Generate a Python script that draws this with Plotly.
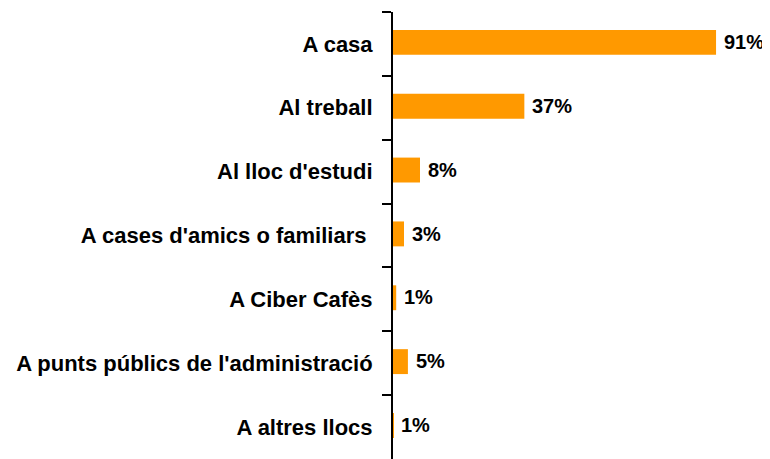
import plotly.graph_objects as go

categories = ["A casa", "Al treball", "Al lloc d'estudi", "A cases d'amics o familiars\u00a0",
              "A Ciber Cafès", "A punts públics de l'administració", "A altres llocs"]
values = [91, 37, 7.6, 3.1, 0.9, 4.2, 0.1]
labels = ["91%", "37%", "8%", "3%", "1%", "5%", "1%"]

fig = go.Figure()
fig.add_trace(go.Bar(
    x=values, y=categories, orientation="h",
    marker=dict(color="#FF9900", line=dict(width=0)),
    width=0.39, offset=-0.22, hoverinfo="skip",
))
for v, c, t in zip(values, categories, labels):
    fig.add_annotation(x=v, y=c, text=t, showarrow=False, xanchor="left", xshift=6, yshift=2,
                       font=dict(family="Liberation Sans", size=20, color="black", weight="bold"))

fig.update_layout(
    width=762, height=451,
    margin=dict(l=385, r=22, t=4, b=0, autoexpand=False),
    plot_bgcolor="white", paper_bgcolor="white",
    showlegend=False,
    xaxis=dict(range=[0, 100], visible=False, fixedrange=True, automargin=False),
    yaxis=dict(autorange="reversed", showline=True, linecolor="black", linewidth=2,
               ticks="outside", ticklen=9, tickwidth=2, tickcolor="black",
               tickson="boundaries", showgrid=False, zeroline=False, automargin=False,
               tickfont=dict(family="Liberation Sans", size=22, color="black", weight="bold"),
               ticklabelstandoff=14),
)
fig.write_html("out.html")
